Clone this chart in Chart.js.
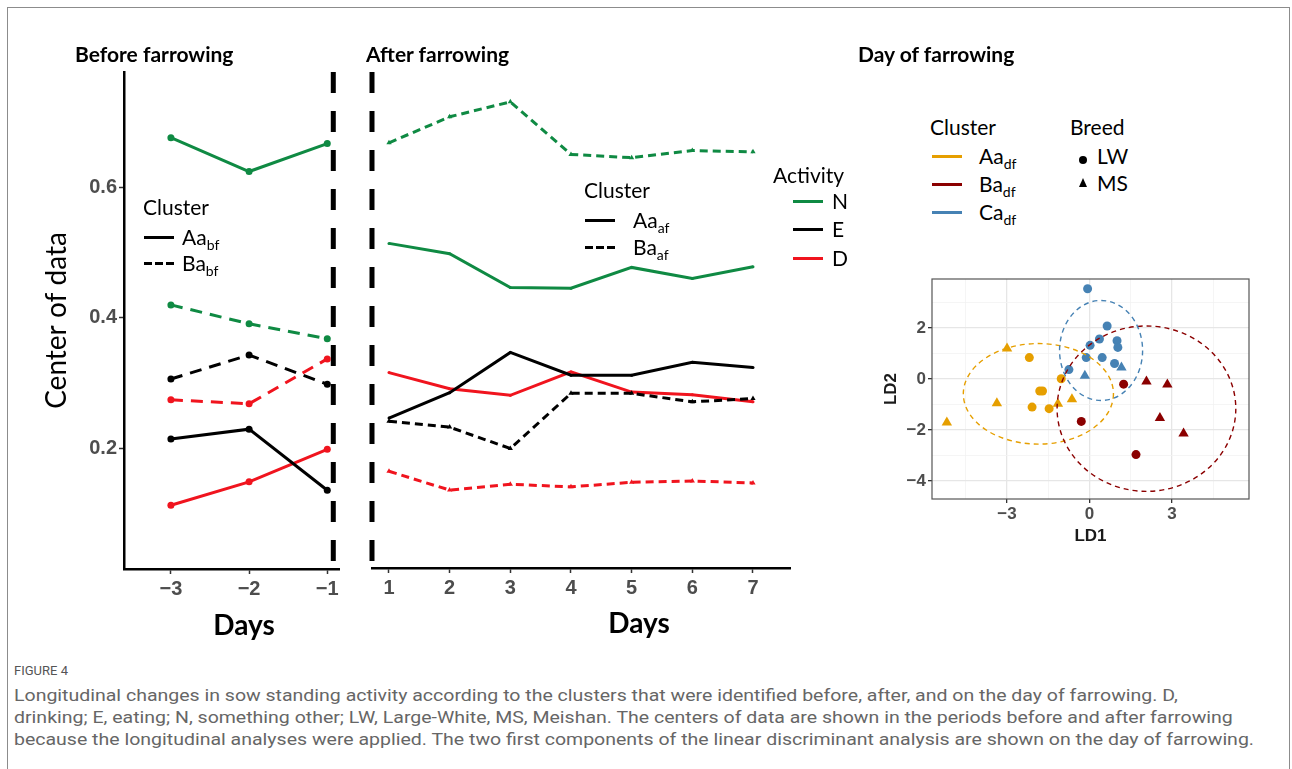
<!DOCTYPE html>
<html>
<head>
<meta charset="utf-8">
<script src="https://cdn.jsdelivr.net/npm/chart.js@4.4.1/dist/chart.umd.min.js"></script>
<style>
  body { margin:0; background:#fff; width:1292px; height:769px; overflow:hidden; position:relative; font-family:Lato, sans-serif; }
  .frame { position:absolute; left:7px; top:7px; width:1281px; height:800px; border:1px solid #8c8c8c; }
  canvas { position:absolute; }
  .t { position:absolute; white-space:nowrap; line-height:1.2; transform:translateY(-50%); color:#000; }
  .ttl { font-weight:bold; font-size:21px; }
  .lg { font-size:21px; }
  .lg sub { font-size:14px; vertical-align:-0.35em; line-height:0; }
  .days { font-weight:bold; font-size:28px; transform:translate(-50%,-50%); }
  .ln { position:absolute; height:3px; width:30px; }
  .dash { background:repeating-linear-gradient(to right, #000 0 8px, transparent 8px 11px); }
  .cap { position:absolute; left:14px; white-space:nowrap; color:#666; font-family:"Liberation Sans Narrow", Roboto, sans-serif; font-size:17px; transform-origin:0 50%; transform:translateY(-50%); }
</style>
</head>
<body>
<div class="frame"></div>

<canvas id="before" width="350" height="620" style="left:0;top:40px"></canvas>
<canvas id="after" width="460" height="620" style="left:340px;top:40px"></canvas>
<canvas id="lda" width="400" height="290" style="left:870px;top:262px"></canvas>

<div class="t ttl" style="left:75px;top:54px">Before farrowing</div>
<div class="t ttl" style="left:366px;top:54px">After farrowing</div>
<div class="t ttl" style="left:858px;top:54px">Day of farrowing</div>

<div class="t lg" style="left:143px;top:207px">Cluster</div>
<div class="ln" style="left:144px;top:236px;background:#000"></div>
<div class="t lg" style="left:182px;top:237px">Aa<sub>bf</sub></div>
<div class="ln dash" style="left:144px;top:262px"></div>
<div class="t lg" style="left:182px;top:263px">Ba<sub>bf</sub></div>

<div class="t lg" style="left:584px;top:190px">Cluster</div>
<div class="ln" style="left:585px;top:219px;background:#000"></div>
<div class="t lg" style="left:633px;top:220px">Aa<sub>af</sub></div>
<div class="ln dash" style="left:585px;top:246px"></div>
<div class="t lg" style="left:633px;top:247px">Ba<sub>af</sub></div>

<div class="t lg" style="left:773px;top:175px">Activity</div>
<div class="ln" style="left:793px;top:200px;background:#0f8a43"></div>
<div class="t lg" style="left:832px;top:201px">N</div>
<div class="ln" style="left:793px;top:228px;background:#000"></div>
<div class="t lg" style="left:832px;top:229px">E</div>
<div class="ln" style="left:793px;top:257px;background:#f0141e"></div>
<div class="t lg" style="left:832px;top:258px">D</div>

<div class="t lg" style="left:930px;top:127px">Cluster</div>
<div class="ln" style="left:932px;top:155px;background:#E69F00"></div>
<div class="t lg" style="left:979px;top:156px">Aa<sub>df</sub></div>
<div class="ln" style="left:932px;top:183px;background:#8B0000"></div>
<div class="t lg" style="left:979px;top:184px">Ba<sub>df</sub></div>
<div class="ln" style="left:932px;top:211px;background:#4682B4"></div>
<div class="t lg" style="left:979px;top:212px">Ca<sub>df</sub></div>
<div class="t lg" style="left:1070px;top:127px">Breed</div>
<div style="position:absolute;left:1079px;top:156px;width:8px;height:8px;border-radius:50%;background:#000"></div>
<div class="t lg" style="left:1097px;top:156px">LW</div>
<div style="position:absolute;left:1079px;top:178px;width:0;height:0;border-left:4.5px solid transparent;border-right:4.5px solid transparent;border-bottom:9px solid #000"></div>
<div class="t lg" style="left:1097px;top:183px">MS</div>

<div class="t days" style="left:244px;top:625px">Days</div>
<div class="t days" style="left:639px;top:623px">Days</div>

<div class="cap" style="top:670px;font-size:13px;color:#555">FIGURE 4</div>
<div class="cap cl" style="top:695px">Longitudinal changes in sow standing activity according to the clusters that were identified before, after, and on the day of farrowing. D,</div>
<div class="cap cl" style="top:717px">drinking; E, eating; N, something other; LW, Large-White, MS, Meishan. The centers of data are shown in the periods before and after farrowing</div>
<div class="cap cl" style="top:739px">because the longitudinal analyses were applied. The two first components of the linear discriminant analysis are shown on the day of farrowing.</div>

<script>
// ---- datos: antes del parto (dias -3..-1)
const daysBefore = [-3, -2, -1];
const nAaBf = [0.677, 0.625, 0.668];
const nBaBf = [0.420, 0.391, 0.368];
const eAaBf = [0.214, 0.229, 0.135];
const eBaBf = [0.306, 0.343, 0.298];
const dAaBf = [0.112, 0.148, 0.198];
const dBaBf = [0.274, 0.268, 0.337];

// ---- despues del parto (dias 1..7)
const daysAfter = [1, 2, 3, 4, 5, 6, 7];
const nAaAf = [0.514, 0.498, 0.446, 0.445, 0.477, 0.460, 0.478];
const nBaAf = [0.669, 0.709, 0.732, 0.651, 0.646, 0.657, 0.655];
const eAaAf = [0.245, 0.284, 0.346, 0.311, 0.311, 0.331, 0.323];
const eBaAf = [0.240, 0.231, 0.198, 0.283, 0.283, 0.270, 0.275];
const dAaAf = [0.315, 0.290, 0.280, 0.316, 0.285, 0.281, 0.270];
const dBaAf = [0.163, 0.134, 0.143, 0.139, 0.146, 0.148, 0.145];

const yTicks = [0.2, 0.4, 0.6];
const farrowBefore = -0.923;   // linea de parto, panel izq
const farrowAfter = 0.72;      // linea de parto, panel central

// ---- dia del parto (LDA)
const aaLwX = [-2.19, -1.81, -1.71, -2.09, -1.47, -1.03];
const aaLwY = [0.84, -0.47, -0.47, -1.10, -1.16, 0.01];
const aaMsX = [-5.19, -3.00, -3.37, -1.15, -0.64];
const aaMsY = [-1.70, 1.20, -0.95, -0.97, -0.79];
const baLwX = [1.24, -0.30, 1.69];
const baLwY = [-0.20, -1.66, -2.96];
const baMsX = [2.07, 2.83, 2.56, 3.42];
const baMsY = [-0.10, -0.21, -1.53, -2.13];
const caLwX = [-0.07, 0.64, 0.36, 0.02, 1.00, 1.03, -0.12, 0.46, 0.91, -0.75];
const caLwY = [3.54, 2.08, 1.57, 1.32, 1.50, 1.24, 0.84, 0.84, 0.61, 0.37];
const caMsX = [-0.17, 1.16];
const caMsY = [0.13, 0.45];

const ellCx = [-1.86, 2.07, 0.42];
const ellCy = [-0.58, -1.16, 1.12];
const ellRx = [2.73, 3.25, 1.51];
const ellRy = [1.97, 3.24, 1.96];

const ldaXTicks = [-4.5, -3, -1.5, 0, 1.5, 3, 4.5];
const ldaYTicks = [-4, -3, -2, -1, 0, 1, 2, 3];
const ldaXMajor = [-3, 0, 3];
const ldaYMajor = [-4, -2, 0, 2];

const GREEN = '#0f8a43', RED = '#f0141e', BLACK = '#000';
const ORANGE = '#E69F00', DARKRED = '#8B0000', BLUE = '#4682B4';

const fmt = v => v < 0 ? '\u2212' + Math.abs(v) : String(v);
const pts = (xs, ys) => xs.map((x, i) => ({x: x, y: ys[i]}));
const tickFont = {family: 'Liberation Sans, Arial', size: 20, weight: 'bold'};

function serie(xs, ys, color, dash, radius, style) {
  return {
    data: pts(xs, ys), borderColor: color, backgroundColor: color,
    borderWidth: 3, borderDash: dash, pointRadius: radius, pointStyle: style,
    pointBorderWidth: 0, showLine: true, tension: 0
  };
}
function farrow(x) {
  return {
    data: [{x: x, y: 0.778}, {x: x, y: 0.014}], borderColor: '#000', borderWidth: 5,
    borderDash: [21, 18], pointRadius: 0, showLine: true, clip: false
  };
}

Chart.defaults.animation = false;
Chart.defaults.responsive = false;
Chart.defaults.devicePixelRatio = 1;
Chart.defaults.plugins.legend.display = false;
Chart.defaults.plugins.tooltip.enabled = false;

new Chart(document.getElementById('before'), {
  type: 'scatter',
  data: {datasets: [
    serie(daysBefore, nAaBf, GREEN, [], 3.5, 'circle'),
    serie(daysBefore, nBaBf, GREEN, [12, 8], 3.5, 'circle'),
    serie(daysBefore, eAaBf, BLACK, [], 3.5, 'circle'),
    serie(daysBefore, eBaBf, BLACK, [12, 8], 3.5, 'circle'),
    serie(daysBefore, dAaBf, RED, [], 3.5, 'circle'),
    serie(daysBefore, dBaBf, RED, [12, 8], 3.5, 'circle'),
    farrow(farrowBefore)
  ]},
  options: {
    layout: {padding: {top: 32, right: 11, left: 0, bottom: 0}},
    scales: {
      x: {
        type: 'linear', min: -3.6, max: -0.85,
        afterBuildTicks: s => { s.ticks = daysBefore.map(v => ({value: v})); },
        afterFit: s => { s.height = 91; },
        ticks: {callback: fmt, color: '#4d4d4d', font: tickFont, padding: 3, maxRotation: 0},
        grid: {drawOnChartArea: false, tickLength: 5, tickColor: '#333', tickWidth: 1.5},
        border: {color: '#000', width: 2.5}
      },
      y: {
        min: 0.014, max: 0.778,
        afterBuildTicks: s => { s.ticks = yTicks.map(v => ({value: v})); },
        afterFit: s => { s.width = 124; },
        ticks: {callback: v => v.toFixed(1), color: '#4d4d4d', font: tickFont, padding: 2},
        grid: {drawOnChartArea: false, tickLength: 5, tickColor: '#333', tickWidth: 1.5},
        border: {color: '#000', width: 2.5},
        title: {display: true, text: 'Center of data', color: '#000',
                font: {family: 'Lato', size: 28}, padding: {top: 40, bottom: 0}}
      }
    }
  }
});

new Chart(document.getElementById('after'), {
  type: 'scatter',
  data: {datasets: [
    serie(daysAfter, nAaAf, GREEN, [], 1.5, 'circle'),
    serie(daysAfter, nBaAf, GREEN, [8, 5], 3, 'triangle'),
    serie(daysAfter, eAaAf, BLACK, [], 1.5, 'circle'),
    serie(daysAfter, eBaAf, BLACK, [8, 5], 3, 'triangle'),
    serie(daysAfter, dAaAf, RED, [], 1.5, 'circle'),
    serie(daysAfter, dBaAf, RED, [8, 5], 3, 'triangle'),
    farrow(farrowAfter)
  ]},
  options: {
    layout: {padding: {top: 32, right: 10, left: 32, bottom: 0}},
    scales: {
      x: {
        type: 'linear', min: 0.72, max: 7.61,
        afterBuildTicks: s => { s.ticks = daysAfter.map(v => ({value: v})); },
        afterFit: s => { s.height = 92; },
        ticks: {color: '#4d4d4d', font: tickFont, padding: 3, maxRotation: 0},
        grid: {drawOnChartArea: false, tickLength: 5, tickColor: '#333', tickWidth: 1.5},
        border: {color: '#000', width: 2.5}
      },
      y: {min: 0.014, max: 0.778, display: false}
    }
  }
});

const panelPlugin = {
  id: 'panel',
  afterDatasetsDraw(chart) {
    const {ctx, chartArea: a, scales: {x, y}} = chart;
    const cols = [ORANGE, DARKRED, BLUE];
    ctx.save();
    ctx.beginPath();
    ctx.rect(a.left, a.top, a.right - a.left, a.bottom - a.top);
    ctx.clip();
    ctx.setLineDash([5, 4]);
    ctx.lineWidth = 1.4;
    ellCx.forEach((cx, i) => {
      const px = x.getPixelForValue(cx), py = y.getPixelForValue(ellCy[i]);
      const rx = Math.abs(x.getPixelForValue(cx + ellRx[i]) - px);
      const ry = Math.abs(y.getPixelForValue(ellCy[i] + ellRy[i]) - py);
      ctx.strokeStyle = cols[i];
      ctx.beginPath();
      ctx.ellipse(px, py, rx, ry, 0, 0, Math.PI * 2);
      ctx.stroke();
    });
    ctx.restore();
    ctx.save();
    ctx.strokeStyle = '#555';
    ctx.lineWidth = 1.2;
    ctx.strokeRect(a.left, a.top, a.right - a.left, a.bottom - a.top);
    ctx.restore();
  }
};

const dot = (xs, ys, color, style, r) => ({
  data: pts(xs, ys), backgroundColor: color, borderColor: color,
  pointStyle: style, pointRadius: r, pointBorderWidth: 0
});
const ldaFont = {family: 'Liberation Sans, Arial', size: 17, weight: 'bold'};
const isMajor = (list, v) => list.some(m => Math.abs(m - v) < 1e-6);

new Chart(document.getElementById('lda'), {
  type: 'scatter',
  data: {datasets: [
    dot(aaLwX, aaLwY, ORANGE, 'circle', 4.5),
    dot(aaMsX, aaMsY, ORANGE, 'triangle', 6),
    dot(baLwX, baLwY, DARKRED, 'circle', 4.5),
    dot(baMsX, baMsY, DARKRED, 'triangle', 6),
    dot(caLwX, caLwY, BLUE, 'circle', 4.5),
    dot(caMsX, caMsY, BLUE, 'triangle', 6)
  ]},
  options: {
    layout: {padding: {top: 17, right: 21, left: 0, bottom: 0}},
    scales: {
      x: {
        min: -5.73, max: 5.8,
        afterBuildTicks: s => { s.ticks = ldaXTicks.map(v => ({value: v})); },
        afterFit: s => { s.height = 53; },
        ticks: {callback: v => isMajor(ldaXMajor, v) ? fmt(v) : '', color: '#4d4d4d',
                font: ldaFont, padding: 1, maxRotation: 0, autoSkip: false},
        grid: {
          color: c => isMajor(ldaXMajor, c.tick.value) ? '#e6e6e6' : '#f2f2f2',
          lineWidth: c => isMajor(ldaXMajor, c.tick.value) ? 1.3 : 0.8,
          tickColor: c => isMajor(ldaXMajor, c.tick.value) ? '#333' : 'rgba(0,0,0,0)',
          tickLength: 4
        },
        border: {display: false},
        title: {display: true, text: 'LD1', color: '#1a1a1a', font: ldaFont, padding: {top: 0, bottom: 5}}
      },
      y: {
        min: -4.7, max: 3.92,
        afterBuildTicks: s => { s.ticks = ldaYTicks.map(v => ({value: v})); },
        afterFit: s => { s.width = 62; },
        ticks: {callback: v => isMajor(ldaYMajor, v) ? fmt(v) : '', color: '#4d4d4d',
                font: ldaFont, padding: 2, autoSkip: false},
        grid: {
          color: c => isMajor(ldaYMajor, c.tick.value) ? '#e6e6e6' : '#f2f2f2',
          lineWidth: c => isMajor(ldaYMajor, c.tick.value) ? 1.3 : 0.8,
          tickColor: c => isMajor(ldaYMajor, c.tick.value) ? '#333' : 'rgba(0,0,0,0)',
          tickLength: 4
        },
        border: {display: false},
        title: {display: true, text: 'LD2', color: '#1a1a1a', font: ldaFont, padding: {top: 11, bottom: 0}}
      }
    }
  },
  plugins: [panelPlugin]
});

// ajustar ancho del pie de figura
function fitCaption() {
  const lines = document.querySelectorAll('.cl');
  const last = lines[lines.length - 1];
  const k = 1240 / last.getBoundingClientRect().width;
  lines.forEach(el => { el.style.transform = 'translateY(-50%) scaleX(' + k + ')'; });
}
document.fonts.ready.then(fitCaption);
</script>
</body>
</html>
